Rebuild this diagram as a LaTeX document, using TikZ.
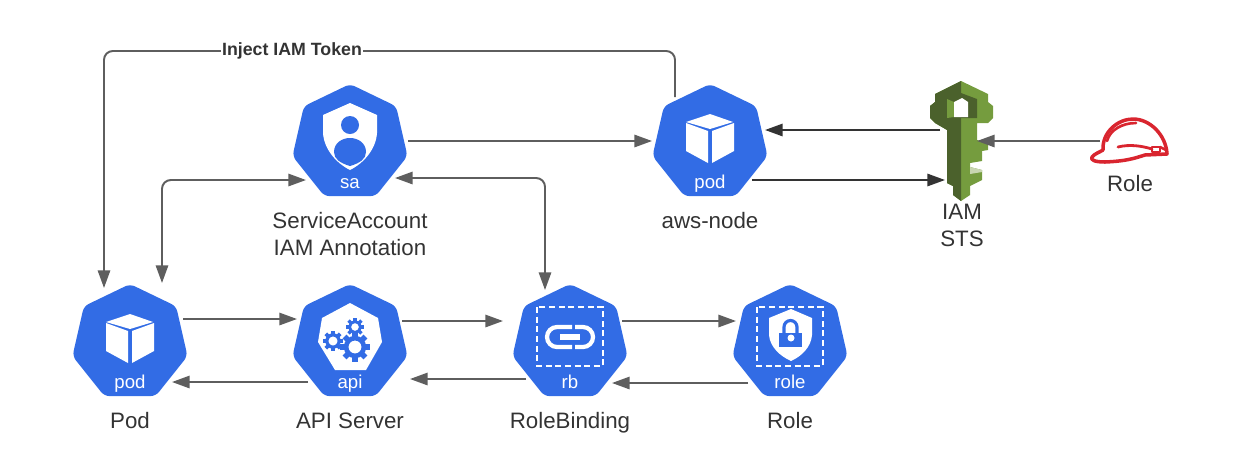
\documentclass[tikz,border=0pt]{standalone}
\usepackage{fontspec}
\setmainfont{Liberation Sans}
\usetikzlibrary{arrows.meta, positioning, shapes.geometric, calc}
\definecolor{kblue}{RGB}{50,108,229}
\definecolor{lineg}{RGB}{94,94,94}
\definecolor{lined}{RGB}{51,51,51}
\definecolor{txt}{RGB}{51,51,51}
\definecolor{keyl}{RGB}{117,156,62}
\definecolor{keyd}{RGB}{75,97,44}
\definecolor{keyp}{RGB}{200,214,176}
\definecolor{hatred}{RGB}{217,37,47}
\tikzset{
  hept/.style={regular polygon, regular polygon sides=7, fill=kblue, minimum size=2.36cm, inner sep=0pt, rounded corners=3pt},
  hepttext/.style={text=white, font=\fontsize{10.6}{12}\selectfont, inner sep=0pt, anchor=base},
  lbl/.style={text=txt, font=\fontsize{12.7}{15.3}\selectfont, align=center, inner sep=0pt, anchor=base},
  flow/.style={draw=lineg, line width=1.1pt, -{Triangle[length=10pt,width=7pt]}},
  flowdark/.style={flow, draw=lined},
  twoway/.style={draw=lineg, line width=1.1pt, rounded corners=5pt, {Triangle[length=10pt,width=7pt]}-{Triangle[length=10pt,width=7pt]}},
  dashbox/.style={draw=white, line width=1.6pt, dash pattern=on 3.5pt off 2pt}
}
% cube of a pod, #1 = hept node
\newcommand{\cubeicon}[1]{
  \begin{scope}[shift={(#1.center)}]
    \fill[white] (0,-29) -- (23,-21) -- (0,-14) -- (-24,-21) -- cycle;
    \fill[white] (-24,-20) -- (-2,-12) -- (-2,20) -- (-24,8) -- cycle;
    \fill[white] (24,-20) -- (2,-12) -- (2,20) -- (24,8) -- cycle;
  \end{scope}
}
% gear, x y radius
\newcommand{\gearicon}[3]{
  \draw[kblue, line width=#3*0.2pt] (#1,#2) circle ({#3*0.68});
  \foreach \ang in {0,45,...,315}
    \draw[kblue, line width=#3*0.24pt] (#1,#2) ++(\ang:{#3*0.75}) -- ++(\ang:{#3*0.38});
}
\begin{document}
\begin{tikzpicture}[x=0.02cm, y=-0.02cm]
  \useasboundingbox (0,0) rectangle (1240,471);
  % hepts
  \node[hept] (sa) at (350,143) {};
  \node[hept] (awsnode) at (710,143) {};
  \node[hept] (pod) at (130,343) {};
  \node[hept] (api) at (350,343) {};
  \node[hept] (rb) at (570,343) {};
  \node[hept] (role) at (790,343) {};
  \coordinate (key) at (960,140);
  \coordinate (hat) at (1130,141);
  % names inside the hepts
  \node[hepttext] (satext) at ($(sa)+(0,45)$) {sa};
  \node[hepttext] (awstext) at ($(awsnode)+(0,45)$) {pod};
  \node[hepttext] (podtext) at ($(pod)+(0,45)$) {pod};
  \node[hepttext] (apitext) at ($(api)+(0,45)$) {api};
  \node[hepttext] (rbtext) at ($(rb)+(0,45)$) {rb};
  \node[hepttext] (roletext) at ($(role)+(0,45)$) {role};
  % captions
  \node[lbl] (salbl) at (350,255) {ServiceAccount\\IAM Annotation};
  \node[lbl] (awslbl) at (710,228) {aws-node};
  \node[lbl] (podlbl) at (130,428) {Pod};
  \node[lbl] (apilbl) at (350,428) {API Server};
  \node[lbl] (rblbl) at (570,428) {RoleBinding};
  \node[lbl] (rolelbl) at (790,428) {Role};
  \node[lbl] (keylbl) at (962,246) {IAM\\STS};
  \node[lbl] (hatlbl) at (1130,191) {Role};
  % icons
  \cubeicon{awsnode}
  \cubeicon{pod}
  % shield of sa
  \begin{scope}[shift={(sa.center)}]
    \fill[white] (0,-40) -- (27,-28) -- (27,-10) .. controls (26,6) and (14,20) .. (0,27) .. controls (-14,20) and (-26,6) .. (-27,-10) -- (-27,-28) -- cycle;
    \fill[kblue] (0,-18) circle (9);
    \fill[kblue] (0,23) .. controls (-10,20) and (-16,16) .. (-16,9) .. controls (-16,0) and (-8,-5) .. (0,-5) .. controls (8,-5) and (16,0) .. (16,9) .. controls (16,16) and (10,20) .. (0,23) -- cycle;
  \end{scope}
  % gears of api
  \begin{scope}[shift={(api.center)}]
    \fill[white] (0,-40) -- (28,-25) -- (32,-1) -- (16,27) -- (-15,27) -- (-32,-1) -- (-28,-25) -- cycle;
    \gearicon{5}{4}{13}
    \gearicon{5}{-16}{8}
    \gearicon{-17}{-2}{9}
  \end{scope}
  % link of rb
  \begin{scope}[shift={(rb.center)}]
    \draw[dashbox] (-33,-36) rectangle (33,23);
    \draw[white, line width=2.4pt] (2,-16) -- (-13,-16) arc (270:90:10) -- (2,4);
    \draw[white, line width=2.4pt] (5,-16) -- (13,-16) arc (-90:90:10) -- (5,4);
    \draw[white, line width=3pt] (-10,-6) -- (10,-6);
  \end{scope}
  % lock of role
  \begin{scope}[shift={(role.center)}]
    \draw[dashbox] (-33,-36) rectangle (33,23);
    \fill[white] (1,-34) -- (22,-25) -- (22,-8) .. controls (21,4) and (12,13) .. (1,18) .. controls (-10,13) and (-20,4) .. (-21,-8) -- (-21,-25) -- cycle;
    \fill[kblue] (-11,-10) rectangle (12,4);
    \draw[kblue, line width=1.8pt] (-6,-10) -- (-6,-16) arc (180:360:6.5) -- (7,-10);
    \fill[white] (1,-5) circle (3.5);
  \end{scope}
  % IAM key
  \begin{scope}
    \fill[keyl] (961,81) -- (988,94) -- (988,102) -- (993,106) -- (993,118) -- (988,123) -- (977,123) -- (977,140) -- (988,143) -- (988,150) -- (982,151) -- (982,161) -- (970,163) -- (970,167) -- (982,170) -- (982,180) -- (970,186) -- (970,195) -- (961,201) -- (953,195) -- (953,186) -- (947,183) -- (947,130) -- (935,123) -- (930,118) -- (930,106) -- (935,102) -- (935,94) -- cycle;
    \fill[keyd] (961,81) -- (935,94) -- (935,102) -- (930,106) -- (930,118) -- (935,123) -- (947,130) -- (947,183) -- (953,186) -- (953,195) -- (961,201) -- cycle;
    \fill[keyd] (947,99) -- (961,93) -- (977,99) -- (977,118) -- (947,118) -- cycle;
    \fill[keyl] (947,99) -- (954,102) -- (954,117) -- (947,118) -- cycle;
    \fill[white] (954,102) -- (962,98) -- (968,102) -- (968,117) -- (954,117) -- cycle;
    \fill[keyp] (970,167) -- (982,170) -- (982,172) -- (970,174) -- cycle;
  \end{scope}
  % hard hat
  \begin{scope}[line join=round, line cap=round]
    \draw[hatred, line width=2pt] (1103,150) .. controls (1102,132) and (1118,119) .. (1133,119) .. controls (1150,119) and (1166,135) .. (1167,154) -- (1145,155) .. controls (1135,158) and (1128,161) .. (1105,162) .. controls (1095,162) and (1090,160) .. (1092,157) .. controls (1094,154) and (1100,152) .. (1103,150);
    \draw[hatred, line width=1.5pt] (1107,141) .. controls (1110,130) and (1122,123) .. (1136,123);
    \draw[hatred, line width=1.6pt] (1118,147) .. controls (1130,144) and (1142,146) .. (1152,149);
    \draw[hatred, line width=1.5pt] (1152,147) rectangle (1160,152);
    \draw[hatred, line width=1.5pt] (1160,147) -- (1166,150);
  \end{scope}
  % connectors bottom row
  \draw[flow] ($(pod)+(53,-24)$) -- ($(api)+(-53,-24)$);
  \draw[flow] ($(api)+(-42,39)$) -- ($(pod)+(42,39)$);
  \draw[flow] ($(api)+(52,-22)$) -- ($(rb)+(-67,-22)$);
  \draw[flow] ($(rb)+(-44,36)$) -- ($(api)+(60,36)$);
  \draw[flow] ($(rb)+(52,-22)$) -- ($(role)+(-54,-22)$);
  \draw[flow] ($(role)+(-42,40)$) -- ($(rb)+(42,40)$);
  % connectors top row
  \draw[flow] ($(sa)+(58,-2)$) -- ($(awsnode)+(-58,-2)$);
  \draw[flowdark] ($(key)+(-20,-10)$) -- ($(awsnode)+(55,-13)$);
  \draw[flowdark] ($(awsnode)+(42,37)$) -- ($(key)+(-15,40)$);
  \draw[flow] ($(hat)+(-30,0)$) -- ($(key)+(17,1)$);
  % connectors between the rows
  \draw[twoway] ($(pod)+(32,-60)$) |- ($(sa)+(-44,37)$);
  \draw[twoway] ($(sa)+(45,35)$) -| ($(rb)+(-25,-53)$);
  % token
  \coordinate (injbend) at (292,51);
  \draw[flow, rounded corners=5pt] ($(awsnode)+(-35,-46)$) |- (injbend) -| ($(pod)+(-26,-55)$);
  \node[fill=white, text=txt, font=\bfseries\fontsize{10.1}{12}\selectfont, inner sep=0.5pt] (inject) at (292,51) {Inject IAM Token};
\end{tikzpicture}
\end{document}
